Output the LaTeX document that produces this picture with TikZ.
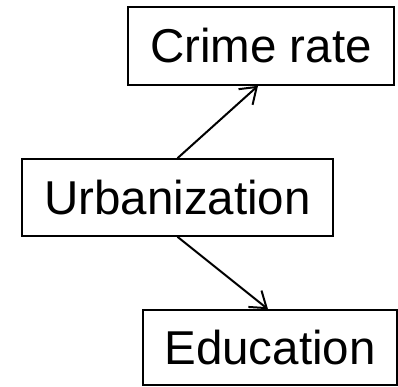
\documentclass[tikz,border=0pt]{standalone}
\usepackage{fontspec}
\setmainfont{Liberation Sans}
\usetikzlibrary{positioning,arrows.meta}

\begin{document}
\begin{tikzpicture}[
        x=1pt, y=1pt,
        var/.style={draw, line width=1.6pt, inner sep=0pt, align=center, font=\fontsize{47.5}{57}\selectfont},
        pijl/.style={line width=2pt, -{Straight Barb[length=15pt, width=21pt, line width=2pt]}}
    ]
        \useasboundingbox (0,0) rectangle (398,386);

        \node[var, minimum width=311pt, minimum height=77pt] (urb) at (177.5,188.5) {Urbanization};
        \node[var, minimum width=266pt, minimum height=78pt] (crime) at (261,340) {Crime rate};
        \node[var, minimum width=254pt, minimum height=75pt] (edu) at (270,38.5) {Education};

        \draw[pijl] (urb.north) -- ([xshift=-3pt]crime.south);
        \draw[pijl] (urb.south) -- ([xshift=-2pt]edu.north);
    \end{tikzpicture}
\end{document}
